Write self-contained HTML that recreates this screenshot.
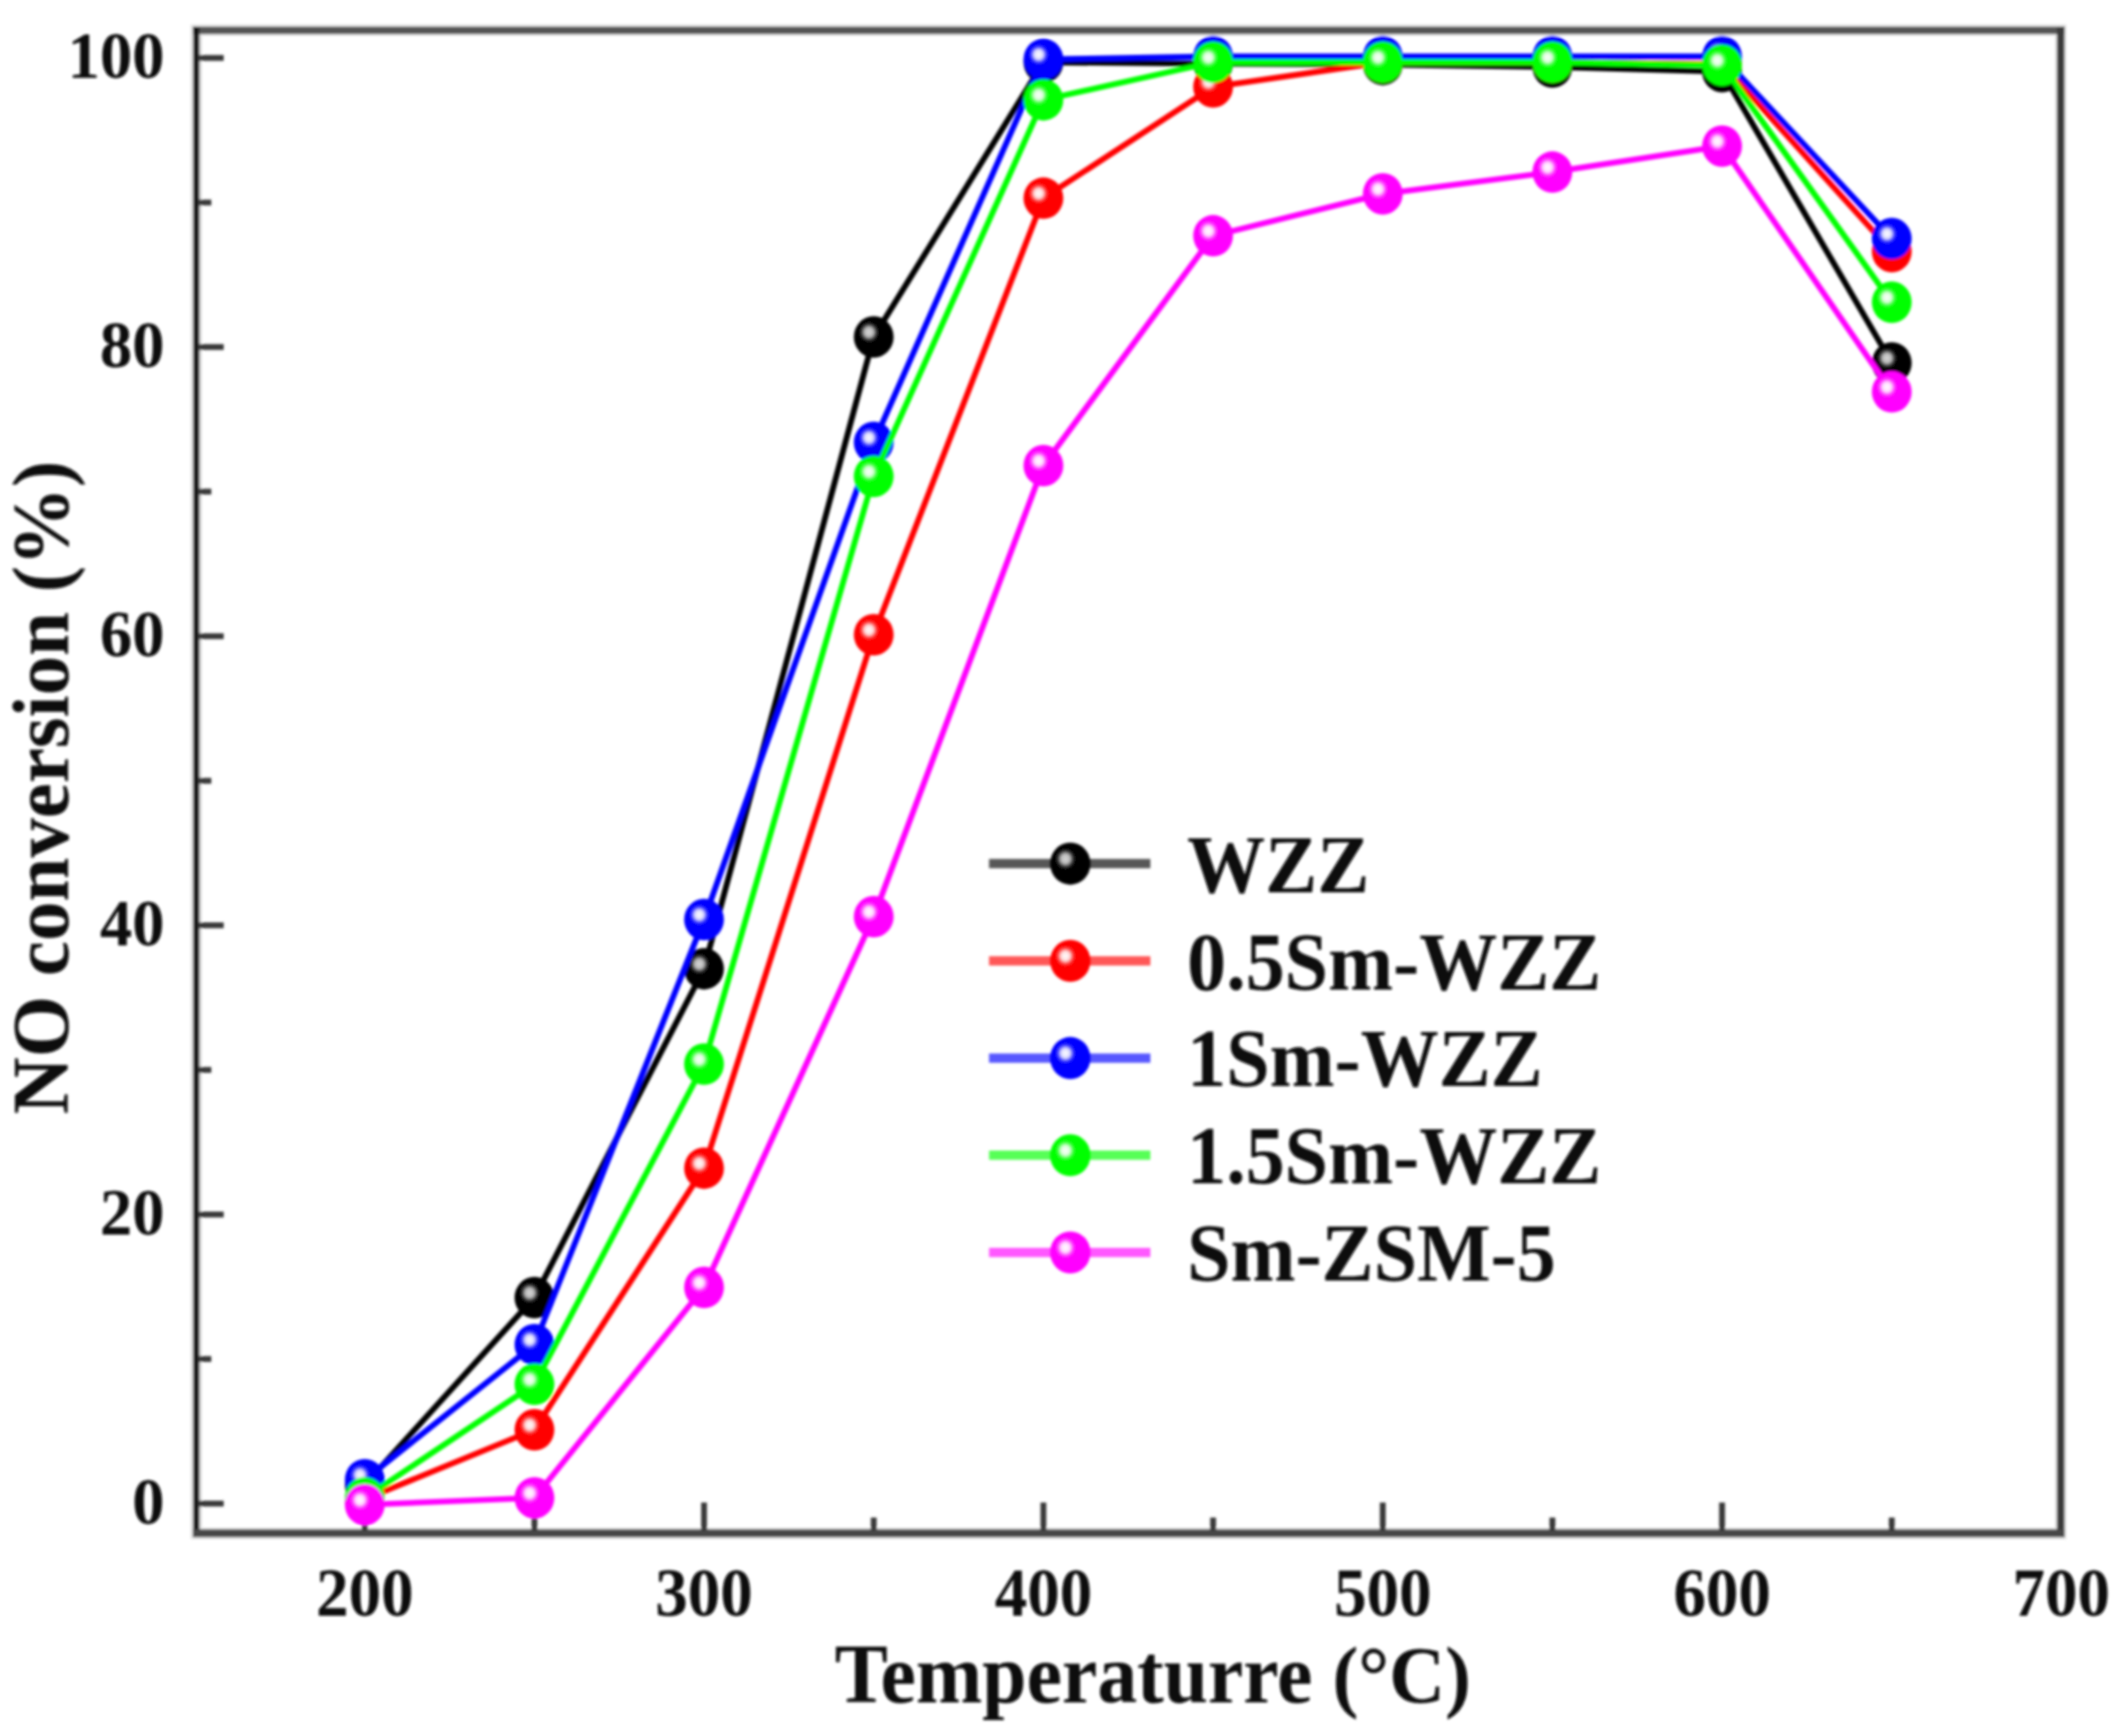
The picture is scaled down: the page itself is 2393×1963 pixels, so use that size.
<!DOCTYPE html>
<html lang="en">
<head>
<meta charset="utf-8">
<title>NO conversion vs Temperature</title>
<style>
html,body{margin:0;padding:0;background:#ffffff;}
body{width:2393px;height:1963px;overflow:hidden;}
svg{display:block;}
text{font-family:"Liberation Serif","DejaVu Serif",serif;font-weight:bold;fill:#0a0a0a;}
.reg{font-weight:normal;}
</style>
</head>
<body>
<svg width="2393" height="1963" viewBox="0 0 2393 1963">
<defs>
<filter id="soft" x="-2%" y="-2%" width="104%" height="104%"><feGaussianBlur stdDeviation="1.5"/></filter>

<radialGradient id="gk" cx="0.38" cy="0.385" r="0.27" fx="0.38" fy="0.385"><stop offset="0" stop-color="#d8d8d8" stop-opacity="1"/><stop offset="0.42" stop-color="#d8d8d8" stop-opacity="0.85"/><stop offset="1" stop-color="#000000" stop-opacity="0"/></radialGradient>
<radialGradient id="gr" cx="0.38" cy="0.385" r="0.27" fx="0.38" fy="0.385"><stop offset="0" stop-color="#ffffff" stop-opacity="1"/><stop offset="0.42" stop-color="#ffffff" stop-opacity="0.85"/><stop offset="1" stop-color="#ff0000" stop-opacity="0"/></radialGradient>
<radialGradient id="gb" cx="0.38" cy="0.385" r="0.27" fx="0.38" fy="0.385"><stop offset="0" stop-color="#ffffff" stop-opacity="1"/><stop offset="0.42" stop-color="#ffffff" stop-opacity="0.85"/><stop offset="1" stop-color="#0000ff" stop-opacity="0"/></radialGradient>
<radialGradient id="gg" cx="0.38" cy="0.385" r="0.27" fx="0.38" fy="0.385"><stop offset="0" stop-color="#ffffff" stop-opacity="1"/><stop offset="0.42" stop-color="#ffffff" stop-opacity="0.85"/><stop offset="1" stop-color="#00ff00" stop-opacity="0"/></radialGradient>
<radialGradient id="gm" cx="0.38" cy="0.385" r="0.27" fx="0.38" fy="0.385"><stop offset="0" stop-color="#ffffff" stop-opacity="1"/><stop offset="0.42" stop-color="#ffffff" stop-opacity="0.85"/><stop offset="1" stop-color="#ff00ff" stop-opacity="0"/></radialGradient>
</defs>
<rect x="0" y="0" width="2393" height="1963" fill="#ffffff"/>
<g filter="url(#soft)">
<g fill="none">
<rect x="222" y="34" width="2108.5" height="1700" stroke="#e6e6e6" stroke-width="13"/>
<line x1="218" y1="34.3" x2="2335" y2="34.3" stroke="#555555" stroke-width="8.5"/>
<line x1="2330.5" y1="30" x2="2330.5" y2="1738" stroke="#3a3a3a" stroke-width="8.5"/>
<line x1="222" y1="30" x2="222" y2="1738" stroke="#141414" stroke-width="7"/>
<line x1="218" y1="1733.8" x2="2335" y2="1733.8" stroke="#464646" stroke-width="9"/>
</g>
<g stroke="#383838" stroke-width="6.6" fill="none">
<line x1="224" y1="1700.2" x2="253" y2="1700.2"/>
<line x1="224" y1="1536.7" x2="239" y2="1536.7"/>
<line x1="224" y1="1373.3" x2="253" y2="1373.3"/>
<line x1="224" y1="1209.8" x2="239" y2="1209.8"/>
<line x1="224" y1="1046.3" x2="253" y2="1046.3"/>
<line x1="224" y1="882.9" x2="239" y2="882.9"/>
<line x1="224" y1="719.4" x2="253" y2="719.4"/>
<line x1="224" y1="555.9" x2="239" y2="555.9"/>
<line x1="224" y1="392.4" x2="253" y2="392.4"/>
<line x1="224" y1="229.0" x2="239" y2="229.0"/>
<line x1="224" y1="65.5" x2="253" y2="65.5"/>
<line x1="412.5" y1="1731" x2="412.5" y2="1699"/>
<line x1="604.4" y1="1731" x2="604.4" y2="1716"/>
<line x1="796.2" y1="1731" x2="796.2" y2="1699"/>
<line x1="988.1" y1="1731" x2="988.1" y2="1716"/>
<line x1="1180.0" y1="1731" x2="1180.0" y2="1699"/>
<line x1="1371.9" y1="1731" x2="1371.9" y2="1716"/>
<line x1="1563.8" y1="1731" x2="1563.8" y2="1699"/>
<line x1="1755.6" y1="1731" x2="1755.6" y2="1716"/>
<line x1="1947.5" y1="1731" x2="1947.5" y2="1699"/>
<line x1="2139.4" y1="1731" x2="2139.4" y2="1716"/>
</g>
<g font-size="73">
<text transform="translate(186 1722.7) scale(1 1.01)" text-anchor="end">0</text>
<text transform="translate(186 1395.8) scale(1 1.01)" text-anchor="end">20</text>
<text transform="translate(186 1068.8) scale(1 1.01)" text-anchor="end">40</text>
<text transform="translate(186 741.9) scale(1 1.01)" text-anchor="end">60</text>
<text transform="translate(186 414.9) scale(1 1.01)" text-anchor="end">80</text>
<text transform="translate(186 88.0) scale(1 1.01)" text-anchor="end">100</text>
<text transform="translate(412.5 1827) scale(1 1.07)" font-size="73.5" text-anchor="middle">200</text>
<text transform="translate(796.2 1827) scale(1 1.07)" font-size="73.5" text-anchor="middle">300</text>
<text transform="translate(1180.0 1827) scale(1 1.07)" font-size="73.5" text-anchor="middle">400</text>
<text transform="translate(1563.8 1827) scale(1 1.07)" font-size="73.5" text-anchor="middle">500</text>
<text transform="translate(1947.5 1827) scale(1 1.07)" font-size="73.5" text-anchor="middle">600</text>
<text transform="translate(2331.2 1827) scale(1 1.07)" font-size="73.5" text-anchor="middle">700</text>
</g>
<text transform="translate(76.5 1260) rotate(-90) scale(1 1.02)" font-size="89.3">NO conversion (%)</text>
<text transform="translate(944 1925.3) scale(1 1.05)" font-size="90.1">Temperaturre <tspan font-size="87.5">(°C)</tspan></text>
<polyline points="412.5,1678.9 604.4,1467.3 796.2,1095.4 988.1,381.0 1180.0,70.4 1371.9,72.0 1563.8,72.9 1755.6,75.8 1947.5,81.0 2139.4,410.4" fill="none" stroke="#000000" stroke-width="6.6" stroke-linejoin="round"/>
<ellipse cx="412.5" cy="1678.9" rx="22.5" ry="23.5" fill="#000000"/><ellipse cx="412.5" cy="1678.9" rx="22.5" ry="23.5" fill="url(#gk)"/>
<ellipse cx="604.4" cy="1467.3" rx="22.5" ry="23.5" fill="#000000"/><ellipse cx="604.4" cy="1467.3" rx="22.5" ry="23.5" fill="url(#gk)"/>
<ellipse cx="796.2" cy="1095.4" rx="22.5" ry="23.5" fill="#000000"/><ellipse cx="796.2" cy="1095.4" rx="22.5" ry="23.5" fill="url(#gk)"/>
<ellipse cx="988.1" cy="381.0" rx="22.5" ry="23.5" fill="#000000"/><ellipse cx="988.1" cy="381.0" rx="22.5" ry="23.5" fill="url(#gk)"/>
<ellipse cx="1180.0" cy="70.4" rx="22.5" ry="23.5" fill="#000000"/><ellipse cx="1180.0" cy="70.4" rx="22.5" ry="23.5" fill="url(#gk)"/>
<ellipse cx="1371.9" cy="72.0" rx="22.5" ry="23.5" fill="#000000"/><ellipse cx="1371.9" cy="72.0" rx="22.5" ry="23.5" fill="url(#gk)"/>
<ellipse cx="1563.8" cy="72.9" rx="22.5" ry="23.5" fill="#000000"/><ellipse cx="1563.8" cy="72.9" rx="22.5" ry="23.5" fill="url(#gk)"/>
<ellipse cx="1755.6" cy="75.8" rx="22.5" ry="23.5" fill="#000000"/><ellipse cx="1755.6" cy="75.8" rx="22.5" ry="23.5" fill="url(#gk)"/>
<ellipse cx="1947.5" cy="81.0" rx="22.5" ry="23.5" fill="#000000"/><ellipse cx="1947.5" cy="81.0" rx="22.5" ry="23.5" fill="url(#gk)"/>
<ellipse cx="2139.4" cy="410.4" rx="22.5" ry="23.5" fill="#000000"/><ellipse cx="2139.4" cy="410.4" rx="22.5" ry="23.5" fill="url(#gk)"/>
<polyline points="412.5,1695.3 604.4,1616.8 796.2,1320.9 988.1,717.7 1180.0,224.1 1371.9,98.2 1563.8,70.4 1755.6,70.4 1947.5,72.0 2139.4,284.5" fill="none" stroke="#ff0000" stroke-width="6.6" stroke-linejoin="round"/>
<ellipse cx="412.5" cy="1695.3" rx="22.5" ry="23.5" fill="#ff0000"/><ellipse cx="412.5" cy="1695.3" rx="22.5" ry="23.5" fill="url(#gr)"/>
<ellipse cx="604.4" cy="1616.8" rx="22.5" ry="23.5" fill="#ff0000"/><ellipse cx="604.4" cy="1616.8" rx="22.5" ry="23.5" fill="url(#gr)"/>
<ellipse cx="796.2" cy="1320.9" rx="22.5" ry="23.5" fill="#ff0000"/><ellipse cx="796.2" cy="1320.9" rx="22.5" ry="23.5" fill="url(#gr)"/>
<ellipse cx="988.1" cy="717.7" rx="22.5" ry="23.5" fill="#ff0000"/><ellipse cx="988.1" cy="717.7" rx="22.5" ry="23.5" fill="url(#gr)"/>
<ellipse cx="1180.0" cy="224.1" rx="22.5" ry="23.5" fill="#ff0000"/><ellipse cx="1180.0" cy="224.1" rx="22.5" ry="23.5" fill="url(#gr)"/>
<ellipse cx="1371.9" cy="98.2" rx="22.5" ry="23.5" fill="#ff0000"/><ellipse cx="1371.9" cy="98.2" rx="22.5" ry="23.5" fill="url(#gr)"/>
<ellipse cx="1563.8" cy="70.4" rx="22.5" ry="23.5" fill="#ff0000"/><ellipse cx="1563.8" cy="70.4" rx="22.5" ry="23.5" fill="url(#gr)"/>
<ellipse cx="1755.6" cy="70.4" rx="22.5" ry="23.5" fill="#ff0000"/><ellipse cx="1755.6" cy="70.4" rx="22.5" ry="23.5" fill="url(#gr)"/>
<ellipse cx="1947.5" cy="72.0" rx="22.5" ry="23.5" fill="#ff0000"/><ellipse cx="1947.5" cy="72.0" rx="22.5" ry="23.5" fill="url(#gr)"/>
<ellipse cx="2139.4" cy="284.5" rx="22.5" ry="23.5" fill="#ff0000"/><ellipse cx="2139.4" cy="284.5" rx="22.5" ry="23.5" fill="url(#gr)"/>
<polyline points="412.5,1673.2 604.4,1520.4 796.2,1039.8 988.1,500.3 1180.0,67.1 1371.9,63.9 1563.8,63.9 1755.6,63.9 1947.5,63.9 2139.4,269.8" fill="none" stroke="#0000ff" stroke-width="6.6" stroke-linejoin="round"/>
<ellipse cx="412.5" cy="1673.2" rx="22.5" ry="23.5" fill="#0000ff"/><ellipse cx="412.5" cy="1673.2" rx="22.5" ry="23.5" fill="url(#gb)"/>
<ellipse cx="604.4" cy="1520.4" rx="22.5" ry="23.5" fill="#0000ff"/><ellipse cx="604.4" cy="1520.4" rx="22.5" ry="23.5" fill="url(#gb)"/>
<ellipse cx="796.2" cy="1039.8" rx="22.5" ry="23.5" fill="#0000ff"/><ellipse cx="796.2" cy="1039.8" rx="22.5" ry="23.5" fill="url(#gb)"/>
<ellipse cx="988.1" cy="500.3" rx="22.5" ry="23.5" fill="#0000ff"/><ellipse cx="988.1" cy="500.3" rx="22.5" ry="23.5" fill="url(#gb)"/>
<ellipse cx="1180.0" cy="67.1" rx="22.5" ry="23.5" fill="#0000ff"/><ellipse cx="1180.0" cy="67.1" rx="22.5" ry="23.5" fill="url(#gb)"/>
<ellipse cx="1371.9" cy="63.9" rx="22.5" ry="23.5" fill="#0000ff"/><ellipse cx="1371.9" cy="63.9" rx="22.5" ry="23.5" fill="url(#gb)"/>
<ellipse cx="1563.8" cy="63.9" rx="22.5" ry="23.5" fill="#0000ff"/><ellipse cx="1563.8" cy="63.9" rx="22.5" ry="23.5" fill="url(#gb)"/>
<ellipse cx="1755.6" cy="63.9" rx="22.5" ry="23.5" fill="#0000ff"/><ellipse cx="1755.6" cy="63.9" rx="22.5" ry="23.5" fill="url(#gb)"/>
<ellipse cx="1947.5" cy="63.9" rx="22.5" ry="23.5" fill="#0000ff"/><ellipse cx="1947.5" cy="63.9" rx="22.5" ry="23.5" fill="url(#gb)"/>
<ellipse cx="2139.4" cy="269.8" rx="22.5" ry="23.5" fill="#0000ff"/><ellipse cx="2139.4" cy="269.8" rx="22.5" ry="23.5" fill="url(#gb)"/>
<polyline points="412.5,1693.7 604.4,1565.3 796.2,1203.3 988.1,538.7 1180.0,112.9 1371.9,70.4 1563.8,70.4 1755.6,70.4 1947.5,73.7 2139.4,341.8" fill="none" stroke="#00ff00" stroke-width="6.6" stroke-linejoin="round"/>
<ellipse cx="412.5" cy="1693.7" rx="22.5" ry="23.5" fill="#00ff00"/><ellipse cx="412.5" cy="1693.7" rx="22.5" ry="23.5" fill="url(#gg)"/>
<ellipse cx="604.4" cy="1565.3" rx="22.5" ry="23.5" fill="#00ff00"/><ellipse cx="604.4" cy="1565.3" rx="22.5" ry="23.5" fill="url(#gg)"/>
<ellipse cx="796.2" cy="1203.3" rx="22.5" ry="23.5" fill="#00ff00"/><ellipse cx="796.2" cy="1203.3" rx="22.5" ry="23.5" fill="url(#gg)"/>
<ellipse cx="988.1" cy="538.7" rx="22.5" ry="23.5" fill="#00ff00"/><ellipse cx="988.1" cy="538.7" rx="22.5" ry="23.5" fill="url(#gg)"/>
<ellipse cx="1180.0" cy="112.9" rx="22.5" ry="23.5" fill="#00ff00"/><ellipse cx="1180.0" cy="112.9" rx="22.5" ry="23.5" fill="url(#gg)"/>
<ellipse cx="1371.9" cy="70.4" rx="22.5" ry="23.5" fill="#00ff00"/><ellipse cx="1371.9" cy="70.4" rx="22.5" ry="23.5" fill="url(#gg)"/>
<ellipse cx="1563.8" cy="70.4" rx="22.5" ry="23.5" fill="#00ff00"/><ellipse cx="1563.8" cy="70.4" rx="22.5" ry="23.5" fill="url(#gg)"/>
<ellipse cx="1755.6" cy="70.4" rx="22.5" ry="23.5" fill="#00ff00"/><ellipse cx="1755.6" cy="70.4" rx="22.5" ry="23.5" fill="url(#gg)"/>
<ellipse cx="1947.5" cy="73.7" rx="22.5" ry="23.5" fill="#00ff00"/><ellipse cx="1947.5" cy="73.7" rx="22.5" ry="23.5" fill="url(#gg)"/>
<ellipse cx="2139.4" cy="341.8" rx="22.5" ry="23.5" fill="#00ff00"/><ellipse cx="2139.4" cy="341.8" rx="22.5" ry="23.5" fill="url(#gg)"/>
<polyline points="412.5,1701.5 604.4,1693.7 796.2,1455.8 988.1,1036.5 1180.0,526.5 1371.9,266.6 1563.8,219.2 1755.6,194.6 1947.5,165.2 2139.4,443.1" fill="none" stroke="#ff00ff" stroke-width="6.6" stroke-linejoin="round"/>
<ellipse cx="412.5" cy="1701.5" rx="22.5" ry="23.5" fill="#ff00ff"/><ellipse cx="412.5" cy="1701.5" rx="22.5" ry="23.5" fill="url(#gm)"/>
<ellipse cx="604.4" cy="1693.7" rx="22.5" ry="23.5" fill="#ff00ff"/><ellipse cx="604.4" cy="1693.7" rx="22.5" ry="23.5" fill="url(#gm)"/>
<ellipse cx="796.2" cy="1455.8" rx="22.5" ry="23.5" fill="#ff00ff"/><ellipse cx="796.2" cy="1455.8" rx="22.5" ry="23.5" fill="url(#gm)"/>
<ellipse cx="988.1" cy="1036.5" rx="22.5" ry="23.5" fill="#ff00ff"/><ellipse cx="988.1" cy="1036.5" rx="22.5" ry="23.5" fill="url(#gm)"/>
<ellipse cx="1180.0" cy="526.5" rx="22.5" ry="23.5" fill="#ff00ff"/><ellipse cx="1180.0" cy="526.5" rx="22.5" ry="23.5" fill="url(#gm)"/>
<ellipse cx="1371.9" cy="266.6" rx="22.5" ry="23.5" fill="#ff00ff"/><ellipse cx="1371.9" cy="266.6" rx="22.5" ry="23.5" fill="url(#gm)"/>
<ellipse cx="1563.8" cy="219.2" rx="22.5" ry="23.5" fill="#ff00ff"/><ellipse cx="1563.8" cy="219.2" rx="22.5" ry="23.5" fill="url(#gm)"/>
<ellipse cx="1755.6" cy="194.6" rx="22.5" ry="23.5" fill="#ff00ff"/><ellipse cx="1755.6" cy="194.6" rx="22.5" ry="23.5" fill="url(#gm)"/>
<ellipse cx="1947.5" cy="165.2" rx="22.5" ry="23.5" fill="#ff00ff"/><ellipse cx="1947.5" cy="165.2" rx="22.5" ry="23.5" fill="url(#gm)"/>
<ellipse cx="2139.4" cy="443.1" rx="22.5" ry="23.5" fill="#ff00ff"/><ellipse cx="2139.4" cy="443.1" rx="22.5" ry="23.5" fill="url(#gm)"/>
<line x1="1118.5" y1="976.6" x2="1301" y2="976.6" stroke="#000000" stroke-opacity="0.66" stroke-width="10.5"/>
<ellipse cx="1210.4" cy="976.6" rx="22.8" ry="23.8" fill="#000000"/><ellipse cx="1210.4" cy="976.6" rx="22.8" ry="23.8" fill="url(#gk)"/>
<text transform="translate(1342.5 1008.6) scale(1 1.065)" font-size="88.3">WZZ</text>
<line x1="1118.5" y1="1086.5" x2="1301" y2="1086.5" stroke="#ff0000" stroke-opacity="0.66" stroke-width="10.5"/>
<ellipse cx="1210.4" cy="1086.5" rx="22.8" ry="23.8" fill="#ff0000"/><ellipse cx="1210.4" cy="1086.5" rx="22.8" ry="23.8" fill="url(#gr)"/>
<text transform="translate(1342.5 1118.5) scale(1 1.065)" font-size="88.3">0.5Sm-WZZ</text>
<line x1="1118.5" y1="1196.4" x2="1301" y2="1196.4" stroke="#0000ff" stroke-opacity="0.66" stroke-width="10.5"/>
<ellipse cx="1210.4" cy="1196.4" rx="22.8" ry="23.8" fill="#0000ff"/><ellipse cx="1210.4" cy="1196.4" rx="22.8" ry="23.8" fill="url(#gb)"/>
<text transform="translate(1342.5 1228.4) scale(1 1.065)" font-size="88.3">1Sm-WZZ</text>
<line x1="1118.5" y1="1306.3" x2="1301" y2="1306.3" stroke="#00ff00" stroke-opacity="0.66" stroke-width="10.5"/>
<ellipse cx="1210.4" cy="1306.3" rx="22.8" ry="23.8" fill="#00ff00"/><ellipse cx="1210.4" cy="1306.3" rx="22.8" ry="23.8" fill="url(#gg)"/>
<text transform="translate(1342.5 1338.3) scale(1 1.065)" font-size="88.3">1.5Sm-WZZ</text>
<line x1="1118.5" y1="1416.2" x2="1301" y2="1416.2" stroke="#ff00ff" stroke-opacity="0.66" stroke-width="10.5"/>
<ellipse cx="1210.4" cy="1416.2" rx="22.8" ry="23.8" fill="#ff00ff"/><ellipse cx="1210.4" cy="1416.2" rx="22.8" ry="23.8" fill="url(#gm)"/>
<text transform="translate(1342.5 1448.2) scale(1 1.065)" font-size="88.3">Sm-ZSM-5</text>
</g>
</svg>
</body>
</html>
